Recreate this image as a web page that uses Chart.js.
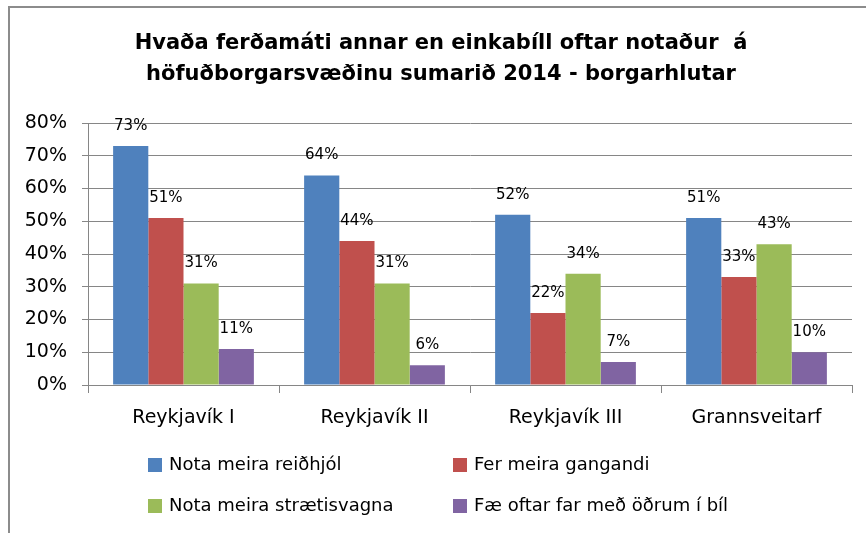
<!DOCTYPE html>
<html>
<head>
<meta charset="utf-8">
<script src="https://cdn.jsdelivr.net/npm/chart.js@4.4.1/dist/chart.umd.min.js"></script>
<style>
  html, body { margin: 0; padding: 0; background: #fff; }
  #wrap { width: 866px; height: 533px; position: relative; }
</style>
</head>
<body>
<div id="wrap"><canvas id="chart"></canvas></div>
<script>
const titleLines = ['Hvaða ferðamáti annar en einkabíll oftar notaður  á', 'höfuðborgarsvæðinu sumarið 2014 - borgarhlutar']
const categories = ['Reykjavík I', 'Reykjavík II', 'Reykjavík III', 'Grannsveitarf']
const seriesNames = ['Nota meira reiðhjól', 'Fer meira gangandi', 'Nota meira strætisvagna', 'Fæ oftar far með öðrum í bíl']
const bikeValues = [73, 64, 52, 51]
const walkValues = [51, 44, 22, 33]
const busValues = [31, 31, 34, 43]
const rideValues = [11, 6, 7, 10]
const yTicks = [0, 10, 20, 30, 40, 50, 60, 70, 80]

const colors = ['#4F81BD', '#C0504D', '#9BBB59', '#8064A2']
const font = "'DejaVu Sans', sans-serif"
const gridColor = '#868686'

const framePlugin = {
    id: 'frame',
    beforeDraw(chart) {
        const ctx = chart.ctx
        ctx.save()
        ctx.fillStyle = '#fff'
        ctx.fillRect(0, 0, chart.width, chart.height)
        ctx.strokeStyle = '#8c8c8c'
        ctx.lineWidth = 2
        ctx.beginPath()
        ctx.moveTo(9, chart.height)
        ctx.lineTo(9, 7)
        ctx.lineTo(chart.width, 7)
        ctx.stroke()

        // title
        ctx.fillStyle = '#000'
        ctx.font = 'bold 21px ' + font
        ctx.textAlign = 'center'
        ctx.textBaseline = 'middle'
        titleLines.forEach((line, i) => ctx.fillText(line, 441, 44 + i * 31))
        ctx.restore()
    }
}

const valueLabelPlugin = {
    id: 'valueLabels',
    afterDatasetsDraw(chart) {
        const ctx = chart.ctx
        ctx.save()
        ctx.fillStyle = '#000'
        ctx.font = '15px ' + font
        ctx.textAlign = 'center'
        ctx.textBaseline = 'middle'
        chart.data.datasets.forEach((ds, i) => {
            chart.getDatasetMeta(i).data.forEach((bar, j) => {
                ctx.fillText(ds.data[j] + '%', bar.x, bar.y - 20)
            })
        })
        ctx.restore()
    }
}

const legendPlugin = {
    id: 'gridLegend',
    afterDraw(chart) {
        const ctx = chart.ctx
        const cols = [148, 453]
        const rows = [465, 506]
        ctx.save()
        ctx.font = '18px ' + font
        ctx.textBaseline = 'middle'
        ctx.textAlign = 'left'
        chart.data.datasets.forEach((ds, i) => {
            const x = cols[i % 2]
            const y = rows[Math.floor(i / 2)]
            ctx.fillStyle = ds.backgroundColor
            ctx.fillRect(x, y - 7, 14, 14)
            ctx.fillStyle = '#000'
            ctx.fillText(ds.label, x + 21, y)
        })
        ctx.restore()
    }
}

const seriesValues = [bikeValues, walkValues, busValues, rideValues]

const data = {
    labels: categories,
    datasets: seriesNames.map((name, i) => ({
        label: name,
        data: seriesValues[i],
        backgroundColor: colors[i],
        borderWidth: 0,
        categoryPercentage: 0.737,
        barPercentage: 1.0,
    }))
}

const config = {
    type: 'bar',
    data: data,
    options: {
        responsive: true,
        maintainAspectRatio: false,
        animation: false,
        layout: {
            padding: {left: 0, right: 14, top: 123, bottom: 0}
        },
        plugins: {
            legend: {display: false},
            title: {display: false},
            tooltip: {enabled: false},
        },
        scales: {
            x: {
                afterFit: (scale) => { scale.height = 148 },
                grid: {
                    offset: true,
                    drawOnChartArea: false,
                    drawTicks: true,
                    tickLength: 8,
                    color: gridColor,
                },
                border: {color: gridColor, width: 1},
                ticks: {
                    color: '#000',
                    padding: 14,
                    font: {family: font, size: 19},
                },
            },
            y: {
                min: 0,
                max: 80,
                afterFit: (scale) => { scale.width = 88 },
                afterBuildTicks: (scale) => {
                    scale.ticks = yTicks.map((v) => ({value: v}))
                },
                grid: {
                    color: gridColor,
                    tickLength: 6,
                },
                border: {color: gridColor, width: 1},
                ticks: {
                    color: '#000',
                    padding: 15,
                    font: {family: font, size: 19},
                    callback: (value) => value + '%',
                },
            },
        },
    },
    plugins: [framePlugin, valueLabelPlugin, legendPlugin],
}

new Chart(document.getElementById('chart'), config)
</script>
</body>
</html>
